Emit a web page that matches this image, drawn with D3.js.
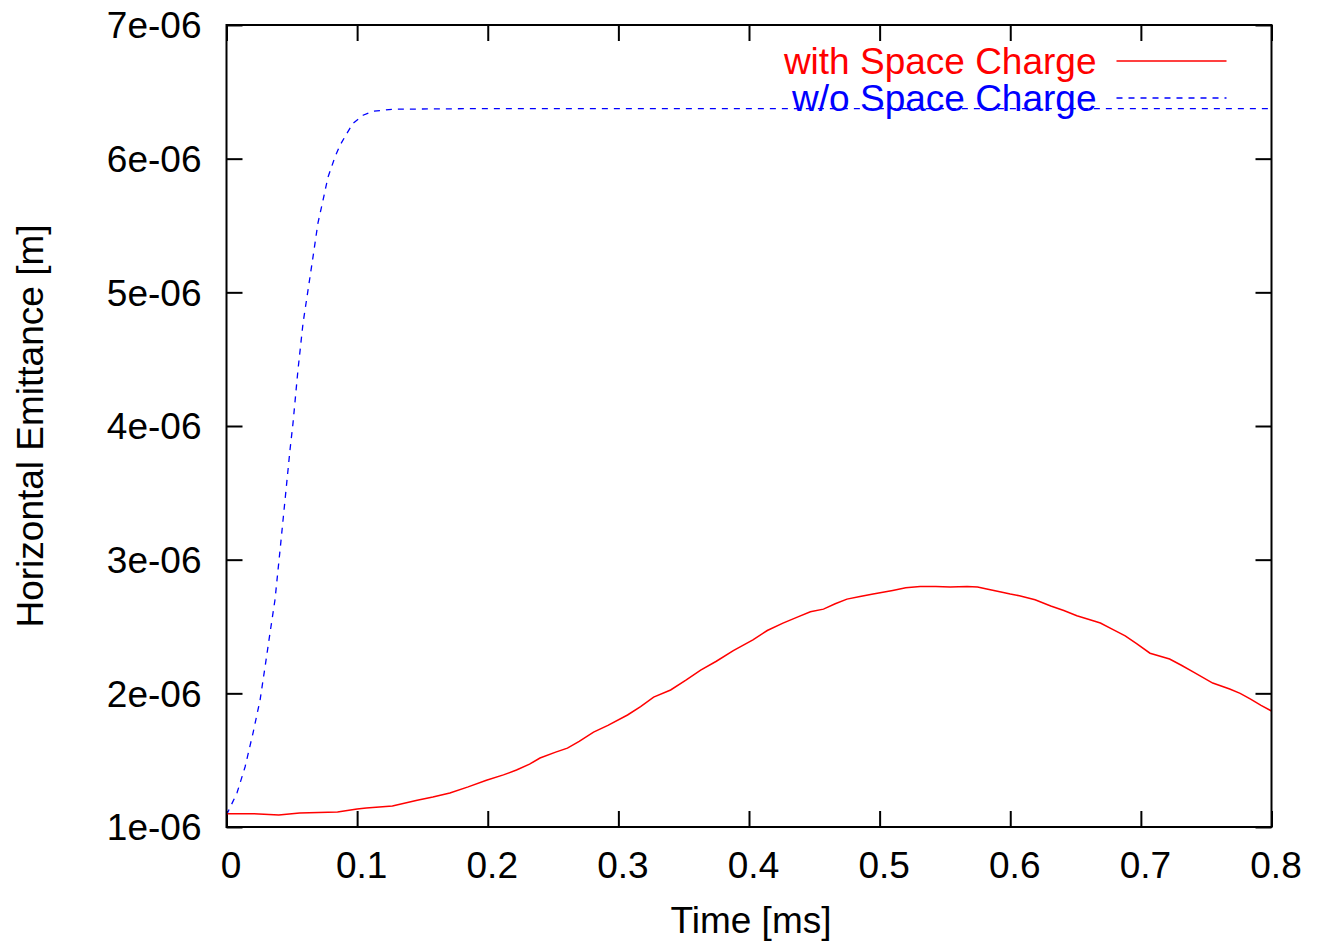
<!DOCTYPE html>
<html>
<head>
<meta charset="utf-8">
<script src="https://cdn.jsdelivr.net/npm/d3@7"></script>
<style>
  body { margin: 0; background: #fff; }
  svg { font-family: "Liberation Sans", Arial, sans-serif; }
</style>
</head>
<body>
<div id="chart"></div>
<script>
// time [ms] and emittance [m]
var timeSC = [0, 0.02, 0.04, 0.056, 0.085, 0.1, 0.107, 0.127, 0.146, 0.158, 0.171, 0.185, 0.199, 0.212, 0.222, 0.232, 0.240, 0.252, 0.261, 0.27, 0.281, 0.292, 0.307, 0.317, 0.327, 0.340, 0.352, 0.363, 0.375, 0.388, 0.403, 0.414, 0.426, 0.437, 0.447, 0.457, 0.466, 0.475, 0.485, 0.495, 0.51, 0.52, 0.531, 0.543, 0.554, 0.567, 0.575, 0.582, 0.592, 0.600, 0.607, 0.619, 0.631, 0.641, 0.651, 0.661, 0.669, 0.678, 0.688, 0.697, 0.707, 0.722, 0.731, 0.740, 0.755, 0.768, 0.776, 0.784, 0.792, 0.8];
var emitSC = [1.10, 1.10, 1.09, 1.105, 1.112, 1.135, 1.142, 1.157, 1.20, 1.224, 1.254, 1.30, 1.35, 1.39, 1.426, 1.47, 1.516, 1.56, 1.59, 1.64, 1.71, 1.76, 1.838, 1.90, 1.972, 2.025, 2.10, 2.174, 2.24, 2.32, 2.40, 2.47, 2.525, 2.57, 2.61, 2.63, 2.67, 2.705, 2.725, 2.743, 2.77, 2.79, 2.80, 2.80, 2.795, 2.80, 2.795, 2.78, 2.76, 2.743, 2.73, 2.70, 2.653, 2.62, 2.58, 2.55, 2.526, 2.48, 2.43, 2.37, 2.30, 2.257, 2.21, 2.16, 2.077, 2.032, 2.00, 1.957, 1.91, 1.868];

var timeNoSC = [0, 0.008, 0.0142, 0.0203, 0.0257, 0.0295, 0.0333, 0.0371, 0.041, 0.0448, 0.0486, 0.0509, 0.0547, 0.0586, 0.0624, 0.0662, 0.07, 0.0739, 0.0777, 0.083, 0.0869, 0.0922, 0.0969, 0.1045, 0.1122, 0.1275, 0.2, 0.4, 0.6, 0.8];
var emitNoSC = [1.09, 1.254, 1.449, 1.703, 1.95, 2.197, 2.451, 2.698, 3.072, 3.446, 3.82, 4.02, 4.418, 4.77, 5.016, 5.263, 5.518, 5.69, 5.862, 6.011, 6.10, 6.19, 6.265, 6.325, 6.355, 6.37, 6.375, 6.375, 6.375, 6.375];

var xTicks = [0, 0.1, 0.2, 0.3, 0.4, 0.5, 0.6, 0.7, 0.8];
var yTicks = [1e-6, 2e-6, 3e-6, 4e-6, 5e-6, 6e-6, 7e-6];
var seriesNames = ["with Space Charge", "w/o Space Charge"];

var W = 1317, H = 945;
var margin = {top: 25, right: 45.5, bottom: 118, left: 226.5},
    width = W - margin.left - margin.right,
    height = H - margin.top - margin.bottom;

var x = d3.scaleLinear().domain([0, 0.8]).range([0, width]);
var y = d3.scaleLinear().domain([1e-6, 7e-6]).range([height, 0]);

var svg = d3.select("#chart").append("svg")
    .attr("width", W)
    .attr("height", H)
  .append("g")
    .attr("transform", "translate(" + margin.left + "," + margin.top + ")");

var tick = 16;
var fs = "37px";
var yFmt = function(d) { return Math.round(d * 1e6) + "e-06"; };

// Axes (ticks point inward, mirrored on top and right)
var gx = svg.append("g")
    .attr("transform", "translate(0," + height + ")")
    .call(d3.axisBottom(x).tickValues(xTicks).tickSize(-tick).tickFormat(d3.format("")));
var gy = svg.append("g")
    .call(d3.axisLeft(y).tickValues(yTicks).tickSize(-tick).tickFormat(yFmt));
svg.append("g")
    .call(d3.axisTop(x).tickValues(xTicks).tickSize(-tick).tickFormat(""));
svg.append("g")
    .attr("transform", "translate(" + width + ",0)")
    .call(d3.axisRight(y).tickValues(yTicks).tickSize(-tick).tickFormat(""));

svg.selectAll(".domain").remove();
svg.selectAll(".tick line").attr("stroke", "#000").attr("stroke-width", 2);
gx.selectAll("text").attr("dy", 0).attr("y", 51).attr("x", 4)
    .style("font-size", fs).attr("fill", "#000");
gy.selectAll("text").attr("dy", "0.35em").attr("x", -25)
    .style("font-size", fs).attr("fill", "#000");

// Lines
var line = d3.line()
    .x(function(d) { return x(d[0]); })
    .y(function(d) { return y(d[1] * 1e-6); });

svg.append("path")
    .datum(d3.zip(timeNoSC, emitNoSC))
    .attr("fill", "none")
    .attr("stroke", "#0000ff")
    .attr("stroke-width", 1.3)
    .attr("stroke-dasharray", "6,6")
    .attr("d", line);

svg.append("path")
    .datum(d3.zip(timeSC, emitSC))
    .attr("fill", "none")
    .attr("stroke", "#ff0000")
    .attr("stroke-width", 1.5)
    .attr("d", line);

// Frame
svg.append("rect")
    .attr("width", width)
    .attr("height", height)
    .attr("fill", "none")
    .attr("stroke", "#000")
    .attr("stroke-width", 2);

// Legend
var legend = [
  {name: seriesNames[0], color: "#ff0000", dash: null, y: 36},
  {name: seriesNames[1], color: "#0000ff", dash: "6,6", y: 73}
];
legend.forEach(function(l) {
  svg.append("text")
      .attr("x", 870)
      .attr("y", l.y + 13)
      .attr("text-anchor", "end")
      .style("font-size", fs)
      .attr("fill", l.color)
      .text(l.name);
  svg.append("line")
      .attr("x1", 890).attr("x2", 1000)
      .attr("y1", l.y).attr("y2", l.y)
      .attr("stroke", l.color)
      .attr("stroke-width", 1.3)
      .attr("stroke-dasharray", l.dash);
});

// Labels
svg.append("text")
    .attr("text-anchor", "middle")
    .style("font-size", fs)
    .attr("transform", "translate(" + (-184) + "," + (height / 2) + ")rotate(-90)")
    .text("Horizontal Emittance [m]");

svg.append("text")
    .attr("text-anchor", "middle")
    .style("font-size", fs)
    .attr("x", width / 2 + 2)
    .attr("y", height + 106)
    .text("Time [ms]");
</script>
</body>
</html>
